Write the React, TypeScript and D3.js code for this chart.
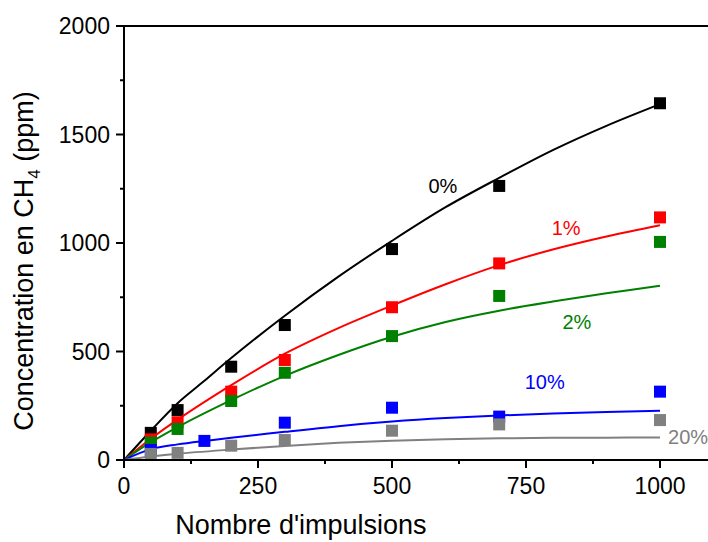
import React from "react";
import * as d3 from "d3";

// ---- data ----
const xTicks = [0, 250, 500, 750, 1000];
const xMinorTicks = [125, 375, 625, 875, 1125];
const yTicks = [0, 500, 1000, 1500, 2000];
const yMinorTicks = [250, 750, 1250, 1750];

const seriesNames = ["0%", "1%", "2%", "10%", "20%"];
const seriesColors = ["#000000", "#ff0000", "#008000", "#0000ff", "#808080"];

// measured points [impulses, ppm]
const pts0: [number, number][] = [[50, 125], [100, 230], [200, 430], [300, 622], [500, 972], [700, 1263], [1000, 1644]];
const pts1: [number, number][] = [[50, 95], [100, 174], [200, 315], [300, 461], [500, 704], [700, 906], [1000, 1118]];
const pts2: [number, number][] = [[50, 80], [100, 143], [200, 272], [300, 402], [500, 571], [700, 756], [1000, 1005]];
const pts10: [number, number][] = [[50, 46], [150, 88], [300, 172], [500, 241], [700, 200], [1000, 315]];
const pts20: [number, number][] = [[50, 28], [100, 33], [200, 66], [300, 92], [500, 135], [700, 164], [1000, 184]];

// fitted curves
const fit0: [number, number][] = [[0, 0], [50, 135], [100, 262], [150, 365], [200, 470], [300, 665], [400, 845], [500, 1010], [600, 1165], [700, 1300], [800, 1428], [900, 1540], [1000, 1640]];
const fit1: [number, number][] = [[0, 0], [50, 98], [100, 186], [200, 345], [300, 490], [400, 608], [500, 712], [600, 810], [700, 898], [800, 970], [900, 1030], [1000, 1082]];
const fit2: [number, number][] = [[0, 0], [50, 82], [100, 152], [200, 276], [300, 388], [400, 484], [500, 568], [600, 636], [700, 688], [800, 730], [900, 768], [1000, 803]];
const fit10: [number, number][] = [[0, 0], [50, 50], [100, 72], [150, 88], [200, 102], [300, 130], [400, 156], [500, 177], [600, 193], [700, 205], [800, 214], [900, 221], [1000, 227]];
const fit20: [number, number][] = [[0, 0], [50, 16], [100, 29], [200, 48], [300, 65], [400, 79], [500, 89], [600, 96], [700, 100], [800, 102], [900, 103], [1000, 104]];

// label anchors in data units
const labelPos: [number, number][] = [[595, 1262], [825, 1068], [845, 635], [785, 360], [1015, 105]];
const labelAnchor = ["middle", "middle", "middle", "middle", "start"];

const allPts = [pts0, pts1, pts2, pts10, pts20];
const allFits = [fit0, fit1, fit2, fit10, fit20];

const W = 708;
const H = 542;
const FONT = "'Liberation Sans', Arial, sans-serif";

export default function App() {
  const x = d3.scaleLinear().domain([0, 1100]).range([124, 713.6]);
  const y = d3.scaleLinear().domain([0, 2000]).range([460, 26]);
  const line = d3
    .line<[number, number]>()
    .x((d) => x(d[0]))
    .y((d) => y(d[1]))
    .curve(d3.curveCatmullRom.alpha(0.5));
  const sq = 12;

  return (
    <svg
      width={W}
      height={H}
      style={{ position: "fixed", left: 0, top: 0, background: "#fff" }}
      fontFamily={FONT}
    >
      <rect width={W} height={H} fill="#fff" />
      {/* series */}
      {allFits.map((f, i) => (
        <g key={i}>
          <path d={line(f) || ""} fill="none" stroke={seriesColors[i]} strokeWidth={2} />
          {allPts[i].map((p, j) => (
            <rect
              key={j}
              x={x(p[0]) - sq / 2}
              y={y(p[1]) - sq / 2}
              width={sq}
              height={sq}
              fill={seriesColors[i]}
            />
          ))}
        </g>
      ))}
      {/* labels */}
      {seriesNames.map((n, i) => (
        <text
          key={n}
          x={x(labelPos[i][0])}
          y={y(labelPos[i][1])}
          dy="0.35em"
          textAnchor={labelAnchor[i] as any}
          fontSize={20}
          fill={seriesColors[i]}
        >
          {n}
        </text>
      ))}
      {/* axes */}
      <line x1={x(0)} x2={W} y1={y(0)} y2={y(0)} stroke="#000" strokeWidth={2} />
      <line x1={x(0)} x2={W} y1={y(2000)} y2={y(2000)} stroke="#000" strokeWidth={2} />
      <line x1={x(0)} x2={x(0)} y1={y(0) + 1} y2={y(2000) - 1} stroke="#000" strokeWidth={2} />
      {xTicks.map((t) => (
        <g key={"xt" + t}>
          <line x1={x(t)} x2={x(t)} y1={y(0)} y2={y(0) + 8} stroke="#000" strokeWidth={2} />
          <text x={x(t)} y={y(0) + 34} textAnchor="middle" fontSize={23} fill="#000">
            {t}
          </text>
        </g>
      ))}
      {xMinorTicks.map((t) => (
        <line key={"xm" + t} x1={x(t)} x2={x(t)} y1={y(0)} y2={y(0) + 4} stroke="#000" strokeWidth={2} />
      ))}
      {yTicks.map((t) => (
        <g key={"yt" + t}>
          <line x1={x(0) - 8} x2={x(0)} y1={y(t)} y2={y(t)} stroke="#000" strokeWidth={2} />
          <text x={x(0) - 14} y={y(t)} dy="0.35em" textAnchor="end" fontSize={23} fill="#000">
            {t}
          </text>
        </g>
      ))}
      {yMinorTicks.map((t) => (
        <line key={"ym" + t} x1={x(0) - 4} x2={x(0)} y1={y(t)} y2={y(t)} stroke="#000" strokeWidth={2} />
      ))}
      {/* axis titles */}
      <text x={301} y={534} textAnchor="middle" fontSize={27} fill="#000">
        Nombre d'impulsions
      </text>
      <text transform="translate(33,261) rotate(-90)" textAnchor="middle" fontSize={27} fill="#000">
        Concentration en CH
        <tspan fontSize={17} dy={7}>4</tspan>
        <tspan dy={-7}> (ppm)</tspan>
      </text>
    </svg>
  );
}
